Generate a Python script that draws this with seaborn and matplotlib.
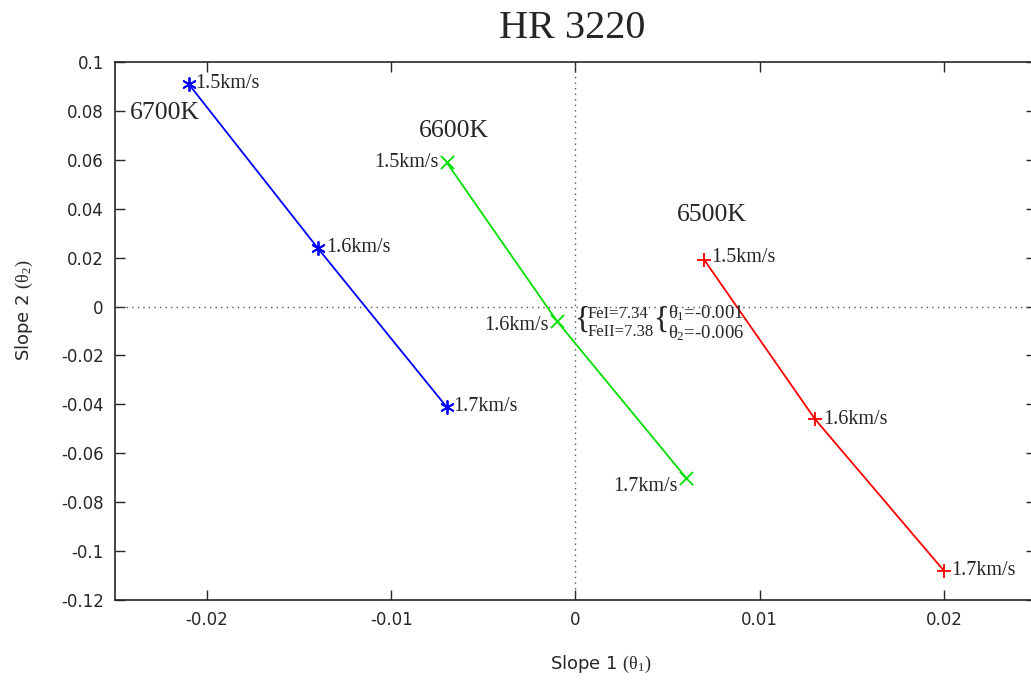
import matplotlib
matplotlib.use("Agg")
import matplotlib.pyplot as plt
import seaborn as sns
import pandas as pd

# Microturbulence grid for HR 3220: slopes of abundance trends
speeds = ["1.5km/s", "1.6km/s", "1.7km/s"]
temps = ["6700K", "6600K", "6500K"]
slope1_6700 = [-0.021, -0.014, -0.007]
slope2_6700 = [0.091, 0.024, -0.041]
slope1_6600 = [-0.007, -0.001, 0.006]
slope2_6600 = [0.059, -0.006, -0.070]
slope1_6500 = [0.007, 0.013, 0.020]
slope2_6500 = [0.019, -0.046, -0.108]

xticks = [-0.02, -0.01, 0, 0.01, 0.02]
yticks = [0.1, 0.08, 0.06, 0.04, 0.02, 0, -0.02, -0.04, -0.06, -0.08, -0.1, -0.12]

sns.set_style("ticks")
plt.rcParams["font.family"] = ["DejaVu Sans"]
# upright serif glyphs for the theta symbols
plt.rcParams["mathtext.fontset"] = "custom"
plt.rcParams["mathtext.rm"] = "Liberation Serif"
plt.rcParams["mathtext.it"] = "Liberation Serif"
plt.rcParams["mathtext.bf"] = "Liberation Serif:bold"
SERIF = ["Liberation Serif", "DejaVu Serif"]

rows = []
for t, xs, ys in zip(temps,
                     [slope1_6700, slope1_6600, slope1_6500],
                     [slope2_6700, slope2_6600, slope2_6500]):
    for s, x, y in zip(speeds, xs, ys):
        rows.append({"temp": t, "speed": s, "slope1": x, "slope2": y})
df = pd.DataFrame(rows)

palette = {"6700K": "#0000ff", "6600K": "#00e000", "6500K": "#ff0000"}
markers = {"6700K": (6, 2, 0), "6600K": "x", "6500K": "+"}

fig = plt.figure(figsize=(10.31, 6.84), dpi=100)
ax = fig.add_axes([0.1115, 0.1228, 0.8933, 0.7866])

ax.axhline(0, color="#555555", lw=1, ls=(0, (1, 3)), zorder=1)
ax.axvline(0, color="#555555", lw=1, ls=(0, (1, 3)), zorder=1)

sns.lineplot(data=df, x="slope1", y="slope2", hue="temp", palette=palette,
             units="temp", estimator=None, sort=False, legend=False,
             lw=1.3, ax=ax, zorder=2)
for t in temps:
    sub = df[df["temp"] == t]
    ax.scatter(sub["slope1"], sub["slope2"], marker=markers[t], s=90,
               color=palette[t], linewidths=1.3, zorder=3)

# speed labels: (dx, dy) offsets in points and alignment per series
label_style = {
    "6700K": [((5, 0), "left"), ((6, 0), "left"), ((5, 0), "left")],
    "6600K": [((-6, 0), "right"), ((-6, -3), "right"), ((-6, -6), "right")],
    "6500K": [((5, 2), "left"), ((6, 0), "left"), ((5, 0), "left")],
}
for t in temps:
    sub = df[df["temp"] == t].reset_index(drop=True)
    for i, r in sub.iterrows():
        (dx, dy), ha = label_style[t][i]
        ax.annotate(r["speed"], (r["slope1"], r["slope2"]), xytext=(dx, dy),
                    textcoords="offset points", ha=ha, va="center",
                    fontsize=14.5, family=SERIF)

temp_pos = {"6700K": (-0.0223, 0.0793), "6600K": (-0.0066, 0.0716), "6500K": (0.0074, 0.0376)}
for t in temps:
    ax.text(*temp_pos[t], t, ha="center", va="center", fontsize=18.5, family=SERIF)

# best-fit solution note
ax.text(-0.00005, -0.0055, "{", fontsize=23, family=SERIF, ha="left", va="center")
ax.text(0.00065, -0.0031, "FeI=7.34", fontsize=12, family=SERIF, ha="left", va="center")
ax.text(0.00065, -0.0104, "FeII=7.38", fontsize=12, family=SERIF, ha="left", va="center")
ax.text(0.0042, -0.0055, "{", fontsize=23, family=SERIF, ha="left", va="center")
ax.text(0.00505, -0.0028, r"$\theta_1$=-0.001", fontsize=13.5, family=SERIF, ha="left", va="center")
ax.text(0.00505, -0.0110, r"$\theta_2$=-0.006", fontsize=13.5, family=SERIF, ha="left", va="center")

ax.set_xlim(-0.025, 0.025)
ax.set_ylim(-0.12, 0.1)
ax.set_xticks(xticks)
ax.set_xticklabels([f"{v:g}" for v in xticks])
ax.set_yticks(yticks)
ax.set_yticklabels([f"{v:g}" for v in yticks])
ax.tick_params(direction="in", length=7, width=1, top=True, right=True,
               labelsize=12, pad=8)
for sp in ax.spines.values():
    sp.set_linewidth(1.2)

ax.set_xlabel(r"Slope 1 $(\theta_1)$", fontsize=13)
ax.set_ylabel(r"Slope 2 $(\theta_2)$", fontsize=13)
ax.xaxis.set_label_coords(0.527, -0.100)
ax.yaxis.set_label_coords(-0.087, 0.539)
fig.text(0.555, 0.958, "HR 3220", ha="center", va="center", fontsize=29, family=SERIF)

fig.savefig("out.png", dpi=100)
